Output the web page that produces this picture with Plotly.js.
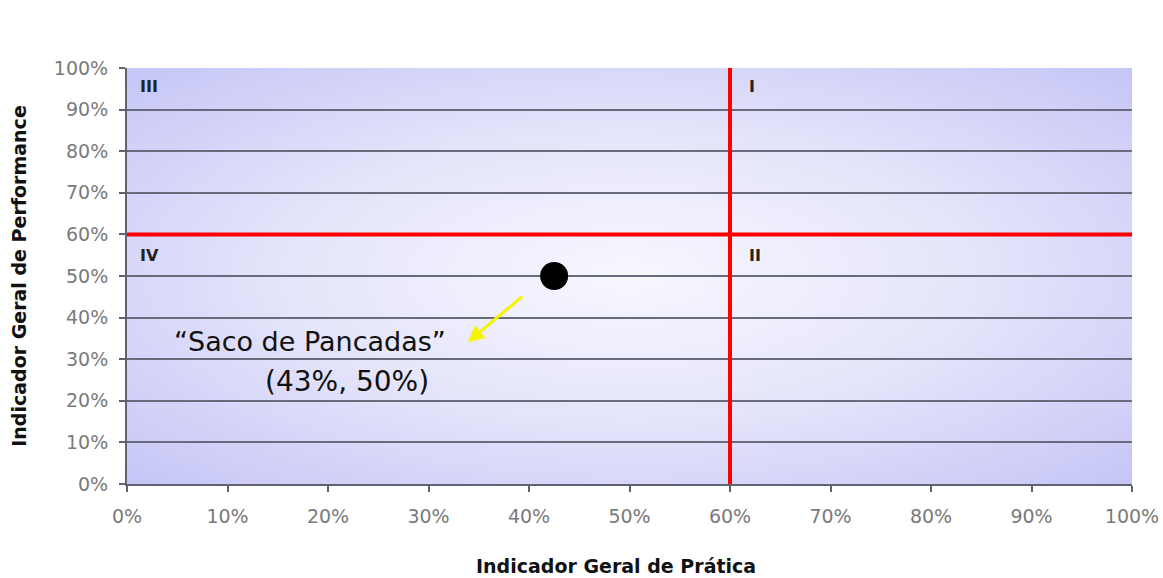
<!DOCTYPE html>
<html>
<head>
<meta charset="utf-8">
<script src="https://cdn.plot.ly/plotly-3.0.1.min.js"></script>
<style>html,body{margin:0;padding:0;background:#fff;}#chart{width:1163px;height:578px;}</style>
</head>
<body>
<div id="chart"></div>
<script>
// Data
const pointX = [0.425];
const pointY = [0.50];
const pointLabel = ["\u201cSaco de Pancadas\u201d"];
const pointValueLabel = ["(43%, 50%)"];
const thresholdX = 0.6;
const thresholdY = 0.6;
const tickVals = [0, 0.1, 0.2, 0.3, 0.4, 0.5, 0.6, 0.7, 0.8, 0.9, 1.0];
const tickText = ["0%", "10%", "20%", "30%", "40%", "50%", "60%", "70%", "80%", "90%", "100%"];
const quadrantNames = ["I", "II", "III", "IV"];
const quadrantX = [0.617, 0.617, 0.011, 0.011];
const quadrantY = [0.955, 0.55, 0.955, 0.55];
const xTitle = "Indicador Geral de Prática";
const yTitle = "Indicador Geral de Performance";

const grad = '<svg xmlns="http://www.w3.org/2000/svg" width="1000" height="400" viewBox="0 0 1000 400" preserveAspectRatio="none">' +
  '<defs><radialGradient id="g" cx="0.5" cy="0.5" r="0.72" gradientUnits="objectBoundingBox">' +
  '<stop offset="0" stop-color="#f7f7ff"/><stop offset="0.45" stop-color="#e6e6fb"/><stop offset="1" stop-color="#c4c4f6"/>' +
  '</radialGradient></defs><rect width="1000" height="400" fill="url(#g)"/></svg>';
const gradURI = 'data:image/svg+xml;charset=utf-8,' + encodeURIComponent(grad);

const traces = [{
  type: 'scatter', mode: 'markers', x: pointX, y: pointY,
  marker: {color: '#000000', size: 28, line: {width: 0}},
  hoverinfo: 'skip', showlegend: false, cliponaxis: false
}];

const annotations = [];
for (let i = 0; i < quadrantNames.length; i++) {
  annotations.push({
    x: quadrantX[i], y: quadrantY[i], xref: 'x', yref: 'y', text: '<b>' + quadrantNames[i] + '</b>',
    showarrow: false, xanchor: 'left', yanchor: 'middle',
    font: {family: 'DejaVu Sans', size: 16, color: '#222222'}
  });
}
annotations.push({
  x: 0.339, y: 0.341, ax: 0.395, ay: 0.454, xref: 'x', yref: 'y', axref: 'x', ayref: 'y',
  text: '', showarrow: true, arrowhead: 2, arrowsize: 1.1, arrowwidth: 3, arrowcolor: '#f5f500'
});
annotations.push({
  x: 0.182, y: 0.343, xref: 'x', yref: 'y', text: pointLabel[0], showarrow: false,
  xanchor: 'center', yanchor: 'middle', font: {family: 'DejaVu Sans', size: 27, color: '#111111'}
});
annotations.push({
  x: 0.219, y: 0.247, xref: 'x', yref: 'y', text: pointValueLabel[0], showarrow: false,
  xanchor: 'center', yanchor: 'middle', font: {family: 'DejaVu Sans', size: 28, color: '#111111'}
});
annotations.push({
  x: 0.4866, y: -0.196, xref: 'paper', yref: 'paper', text: '<b>' + xTitle + '</b>', showarrow: false,
  xanchor: 'center', yanchor: 'middle', font: {family: 'DejaVu Sans', size: 19, color: '#111111'}
});

const layout = {
  width: 1163, height: 578,
  margin: {l: 127, r: 31, t: 68, b: 94, pad: 0},
  paper_bgcolor: '#ffffff', plot_bgcolor: 'rgba(0,0,0,0)',
  showlegend: false,
  xaxis: {
    range: [0, 1], tickvals: tickVals, ticktext: tickText,
    showgrid: false, zeroline: false, showline: true, linecolor: '#60636f', linewidth: 2,
    ticks: 'outside', ticklen: 6, tickwidth: 2, tickcolor: '#60636f', ticklabelstandoff: 8,
    tickfont: {family: 'DejaVu Sans', size: 19, color: '#7a7a7a'},
    fixedrange: true
  },
  yaxis: {
    range: [0, 1], tickvals: tickVals, ticktext: tickText,
    showgrid: true, gridcolor: '#676b7c', gridwidth: 2, zeroline: false,
    showline: true, linecolor: '#60636f', linewidth: 2,
    ticks: 'outside', ticklen: 6, tickwidth: 2, tickcolor: '#60636f', ticklabelstandoff: 7,
    tickfont: {family: 'DejaVu Sans', size: 19, color: '#7a7a7a'},
    title: {text: '<b>' + yTitle + '</b>', standoff: 22,
      font: {family: 'DejaVu Sans', size: 19, color: '#111111'}},
    fixedrange: true
  },
  images: [{
    source: gradURI, xref: 'x', yref: 'y', x: 0, y: 1, sizex: 1, sizey: 1,
    sizing: 'stretch', xanchor: 'left', yanchor: 'top', layer: 'below', opacity: 1
  }],
  shapes: [
    {type: 'line', xref: 'x', yref: 'y', x0: thresholdX, x1: thresholdX, y0: 0, y1: 1.014,
      line: {color: '#ff0000', width: 4}},
    {type: 'line', xref: 'x', yref: 'y', x0: 0, x1: 1, y0: thresholdY, y1: thresholdY,
      line: {color: '#ff0000', width: 4}}
  ],
  annotations: annotations
};

Plotly.newPlot('chart', traces, layout, {displayModeBar: false, staticPlot: true});
</script>
</body>
</html>
